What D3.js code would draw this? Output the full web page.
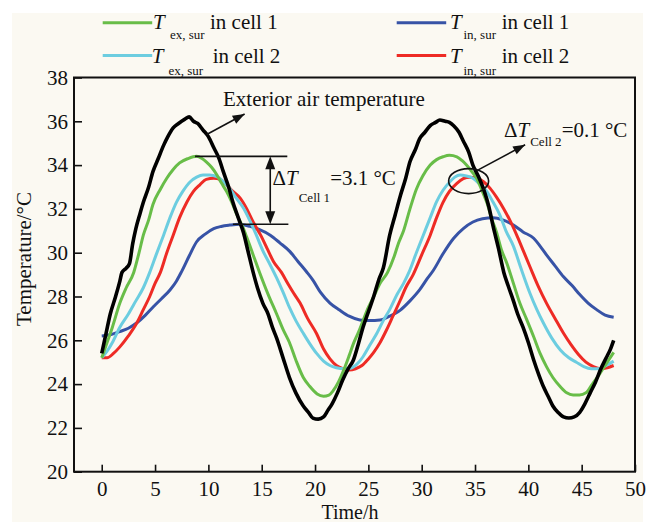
<!DOCTYPE html>
<html>
<head>
<meta charset="utf-8">
<script src="https://cdn.jsdelivr.net/npm/d3@7"></script>
<style>
  html, body { margin: 0; padding: 0; background: #ffffff; }
  svg text { font-family: "Liberation Serif", "Times New Roman", serif; fill: #111; }
</style>
</head>
<body>
<svg id="chart" width="646" height="522"></svg>
<script>
// ---- measured series (time in h, temperature in °C) ----
const exteriorTime = [0,0.4,0.8,1.3,1.7,1.9,2.3,2.6,2.9,3.2,3.6,3.9,4.4,4.8,5.3,5.8,6.2,6.7,7.2,7.8,8.2,8.6,9.0,9.5,10.0,10.5,11.0,11.4,11.9,12.3,12.8,13.3,13.7,14.2,14.6,15.1,15.6,16.0,16.4,17.0,17.6,18.2,18.9,19.4,19.8,20.3,20.8,21.2,21.6,22.1,22.6,23.1,23.6,24.1,24.5,25.0,25.5,26.0,26.4,27.0,27.5,28.0,28.5,28.9,29.4,29.8,30.3,30.8,31.3,31.7,32.2,32.6,33.0,33.5,33.9,34.4,34.8,35.3,35.8,36.3,36.7,37.2,37.7,38.1,38.6,39.0,39.5,40.0,40.5,41.0,41.4,41.9,42.3,42.8,43.3,43.8,44.3,44.8,45.3,45.8,46.3,46.8,47.3,47.7,48.0];
const exteriorTemp = [25.4,26.3,27.2,28.0,28.7,29.1,29.3,29.5,30.4,31.1,31.8,32.3,33.0,33.7,34.3,34.9,35.3,35.7,35.9,36.1,36.2,36.0,35.9,35.6,35.3,34.8,34.3,33.7,33.0,32.3,31.6,30.9,30.1,29.1,28.4,27.7,27.2,26.6,26.1,25.2,24.3,23.6,23.0,22.7,22.45,22.4,22.5,22.8,23.1,23.6,24.2,24.7,25.1,25.9,26.6,27.3,28.0,28.8,29.3,30.8,31.7,32.6,33.4,34.15,34.7,35.2,35.5,35.8,35.95,36.06,36.0,35.95,35.8,35.5,35.1,34.6,34.0,33.5,32.9,32.1,31.2,30.2,29.1,28.5,27.8,27.2,26.6,25.9,25.1,24.4,23.9,23.4,23.0,22.7,22.5,22.45,22.5,22.7,23.1,23.6,24.1,24.7,25.2,25.6,26.0];

const exSurCell1Time = [0,0.5,1.0,1.7,2.3,3.0,3.5,3.9,4.4,4.8,5.5,6.1,6.7,7.3,8.1,8.9,9.4,9.8,10.3,10.8,11.2,11.7,12.2,12.7,13.2,13.6,14.2,14.8,15.6,16.4,17.0,17.6,18.2,18.9,19.5,20.2,20.8,21.3,21.7,22.2,22.7,23.2,23.6,24.1,24.5,25.0,25.5,26.1,26.8,27.4,27.8,28.3,28.9,29.5,30.1,30.8,31.4,32.0,32.6,33.3,33.8,34.2,34.7,35.15,35.6,36.1,36.6,37.0,37.5,38.0,38.6,39.2,39.8,40.5,41.1,41.7,42.3,43.0,43.6,44.2,44.8,45.4,46.0,46.6,47.2,47.6,48.0];
const exSurCell1Temp = [25.2,25.9,26.6,27.7,28.4,29.1,30.0,30.8,31.5,32.2,32.9,33.4,33.8,34.1,34.3,34.4,34.3,34.15,33.9,33.55,33.2,32.8,32.3,31.7,31.2,30.7,29.9,29.1,28.1,27.2,26.5,25.9,25.1,24.3,23.9,23.55,23.45,23.5,23.7,24.1,24.65,25.3,25.85,26.4,26.9,27.5,28.0,28.6,29.1,29.8,30.4,31.0,32.0,32.9,33.5,34.0,34.25,34.38,34.45,34.38,34.2,34.0,33.7,33.4,32.9,32.3,31.5,30.96,30.1,29.5,28.6,27.7,27.0,26.16,25.4,24.8,24.3,23.88,23.6,23.5,23.5,23.6,24.0,24.4,24.85,25.15,25.45];

const exSurCell2Time = [0,0.5,1.0,1.7,2.5,3.2,3.9,4.5,5.1,5.8,6.4,7.0,7.6,8.3,8.9,9.5,10.1,10.8,11.4,12.0,12.6,13.3,13.9,14.5,15.1,15.8,16.4,17.0,17.6,18.2,18.9,19.5,20.15,20.8,21.4,22.0,22.7,23.3,23.9,24.5,25.1,25.8,26.4,27.0,27.7,28.3,28.8,29.5,30.15,30.8,31.4,32.0,32.65,33.1,33.6,34.2,34.8,35.4,36.1,36.7,37.3,37.9,38.6,39.3,40.15,40.8,41.4,42.2,43.0,43.8,44.5,45.2,45.9,46.6,47.3,48.0];
const exSurCell2Temp = [25.2,25.5,25.9,26.6,27.2,27.8,28.4,29.1,29.9,30.8,31.6,32.3,32.8,33.24,33.45,33.55,33.55,33.47,33.25,32.94,32.5,32.03,31.45,30.8,30.1,29.44,28.85,28.2,27.5,26.9,26.32,25.85,25.4,25.05,24.85,24.75,24.7,24.72,24.9,25.25,25.75,26.32,26.9,27.4,28.1,28.6,29.1,30.0,30.8,31.6,32.33,32.85,33.24,33.45,33.55,33.5,33.4,33.15,32.8,32.3,31.75,31.0,30.3,29.3,28.15,27.4,26.8,26.1,25.56,25.2,25.0,24.8,24.7,24.7,24.85,25.05];

const inSurCell1Time = [0,0.8,1.7,2.5,3.3,4.1,4.84,5.6,6.4,7.0,7.5,8.2,8.9,9.7,10.5,11.2,12.0,12.9,13.9,14.8,15.8,16.7,17.65,18.4,19.2,19.8,20.5,21.4,22.3,23.2,24.2,25.1,26.1,27.0,28.0,28.9,29.8,30.5,31.1,32.0,33.0,33.9,34.8,35.7,36.7,37.6,38.6,39.5,40.5,41.1,41.7,42.5,43.3,44.1,44.8,45.6,46.4,47.2,48.0];
const inSurCell1Temp = [26.2,26.25,26.4,26.55,26.8,27.15,27.53,27.9,28.3,28.7,29.15,29.85,30.5,30.85,31.1,31.2,31.26,31.3,31.2,31.05,30.8,30.45,30.05,29.6,29.13,28.75,28.2,27.7,27.38,27.1,26.93,26.9,26.93,27.1,27.38,27.8,28.3,28.8,29.2,29.95,30.66,31.1,31.4,31.55,31.6,31.5,31.26,30.95,30.66,30.3,29.9,29.4,28.9,28.5,28.1,27.7,27.4,27.15,27.05];

const inSurCell2Time = [0,0.5,1.1,1.7,2.5,3.3,3.9,4.5,5.0,5.5,6.1,6.7,7.3,8.0,8.6,9.2,9.8,10.5,11.1,11.7,12.3,13.0,13.6,14.2,14.9,15.5,16.1,16.85,17.5,18.0,18.6,19.3,20.15,20.8,21.4,22.0,22.6,23.2,23.8,24.4,25.0,25.5,26.1,26.7,27.3,28.0,28.5,29.2,30.0,30.8,31.4,32.0,32.6,33.3,33.9,34.5,35.1,35.8,36.4,37.0,37.7,38.3,39.0,39.6,40.15,40.9,41.7,42.5,43.3,44.0,44.7,45.4,46.1,46.8,47.4,48.0];
const inSurCell2Temp = [25.2,25.2,25.4,25.7,26.2,26.8,27.4,28.0,28.6,29.1,30.0,30.8,31.6,32.33,32.8,33.1,33.35,33.4,33.35,33.1,32.8,32.48,32.0,31.4,30.8,30.2,29.6,29.1,28.55,28.15,27.7,27.0,26.3,25.6,25.15,24.85,24.7,24.64,24.7,24.85,25.15,25.45,25.9,26.47,27.1,27.84,28.4,29.0,29.9,30.8,31.6,32.3,32.8,33.17,33.38,33.45,33.42,33.24,32.95,32.55,32.0,31.45,30.7,30.0,29.36,28.5,27.7,27.0,26.32,25.8,25.35,25.0,24.8,24.7,24.75,24.85];

// ---- axes ----
const xTicks = [0,5,10,15,20,25,30,35,40,45,50];
const yTicks = [20,22,24,26,28,30,32,34,36,38];
const xTitle = "Time/h";
const yTitle = "Temperature/°C";

// ---- legend ----
const legendSubs = ["ex, sur", "in, sur", "ex, sur", "in, sur"];
const legendCells = ["in cell 1", "in cell 1", "in cell 2", "in cell 2"];

// ---- annotations (data units) ----
const exteriorLabel = "Exterior air temperature";
const exteriorArrow = [[9.84, 35.4], [13.4, 36.33]];
const cell1Peaks = [34.4, 31.3];          // T_ex,sur peak and T_in,sur peak in cell 1
const cell1Delta = "3.1";
const cell2Focus = [34.4, 33.27];         // where the cell-2 curves peak together
const cell2Arrow = [[35.3, 33.78], [39.7, 34.93]];
const cell2Delta = "0.1";

// ---- layout ----
const plot = { left: 74, right: 635, top: 77.5, bottom: 471.7 };
const colors = {
  exterior: "#000000",
  exSur1: "#68bd48",
  inSur1: "#3753a6",
  exSur2: "#6ccde0",
  inSur2: "#ee2b25"
};

const svg = d3.select("#chart");

// paper background
svg.append("rect").attr("x", 12).attr("y", 13).attr("width", 631).attr("height", 509)
  .attr("fill", "#fbf9f2");

const x = d3.scaleLinear().domain([-2.6, 50]).range([plot.left, plot.right]);
const y = d3.scaleLinear().domain([20, 38]).range([plot.bottom, plot.top]);

// axes with inward ticks
const yAxis = svg.append("g").attr("transform", `translate(${plot.left},0)`)
  .call(d3.axisLeft(y).tickValues(yTicks).tickSize(-8).tickPadding(6).tickFormat(d3.format("d")));
const xAxis = svg.append("g").attr("transform", `translate(0,${plot.bottom})`)
  .call(d3.axisBottom(x).tickValues(xTicks).tickSize(-7).tickFormat(d3.format("d")));
[yAxis, xAxis].forEach(g => {
  g.select(".domain").remove();
  g.selectAll(".tick line").attr("stroke", "#111").attr("stroke-width", 1.6);
  g.selectAll("text").attr("font-size", 21).attr("fill", "#111")
    .attr("font-family", "'Liberation Serif', 'Times New Roman', serif");
});
xAxis.selectAll("text").attr("y", 24).attr("dy", null);

// frame
svg.append("rect")
  .attr("x", plot.left).attr("y", plot.top)
  .attr("width", plot.right - plot.left).attr("height", plot.bottom - plot.top)
  .attr("fill", "none").attr("stroke", "#111").attr("stroke-width", 2);

// axis titles
svg.append("text").attr("x", 350).attr("y", 519).attr("text-anchor", "middle")
  .attr("font-size", 20).text(xTitle);
svg.append("text").attr("transform", "translate(31,259) rotate(-90)")
  .attr("text-anchor", "middle").attr("font-size", 21).text(yTitle);

// curves
const line = d3.line().x(d => x(d[0])).y(d => y(d[1])).curve(d3.curveMonotoneX);
const series = [
  { t: inSurCell1Time, v: inSurCell1Temp, c: colors.inSur1, w: 3 },
  { t: inSurCell2Time, v: inSurCell2Temp, c: colors.inSur2, w: 3 },
  { t: exSurCell2Time, v: exSurCell2Temp, c: colors.exSur2, w: 3 },
  { t: exSurCell1Time, v: exSurCell1Temp, c: colors.exSur1, w: 3 },
  { t: exteriorTime, v: exteriorTemp, c: colors.exterior, w: 3.6 }
];
svg.append("g").selectAll("path").data(series).join("path")
  .attr("d", s => line(s.t.map((t, i) => [t, s.v[i]])))
  .attr("fill", "none").attr("stroke", s => s.c).attr("stroke-width", s => s.w)
  .attr("stroke-linejoin", "round");

// arrow helper: line with a filled head at the end point
function arrowHead(g, x1, y1, x2, y2, len = 12, half = 4.5) {
  const a = Math.atan2(y2 - y1, x2 - x1);
  const bx = x2 - len * Math.cos(a), by = y2 - len * Math.sin(a);
  const px = -Math.sin(a) * half, py = Math.cos(a) * half;
  g.append("path")
    .attr("d", `M${x2},${y2}L${bx + px},${by + py}L${bx - px},${by - py}Z`)
    .attr("fill", "#111");
}
function arrow(g, p0, p1) {
  const [x1, y1, x2, y2] = [x(p0[0]), y(p0[1]), x(p1[0]), y(p1[1])];
  g.append("line").attr("x1", x1).attr("y1", y1).attr("x2", x2).attr("y2", y2)
    .attr("stroke", "#111").attr("stroke-width", 1.6);
  arrowHead(g, x1, y1, x2, y2);
}

const ann = svg.append("g");

// exterior air label
ann.append("text").attr("x", 223).attr("y", 105.5).attr("font-size", 21).text(exteriorLabel);
arrow(ann, exteriorArrow[0], exteriorArrow[1]);

// cell 1 difference bracket
ann.append("line").attr("x1", x(8.75)).attr("x2", x(17.4))
  .attr("y1", y(cell1Peaks[0])).attr("y2", y(cell1Peaks[0]))
  .attr("stroke", "#111").attr("stroke-width", 1.6);
ann.append("line").attr("x1", x(12.3)).attr("x2", x(17.5))
  .attr("y1", y(cell1Peaks[1])).attr("y2", y(cell1Peaks[1]))
  .attr("stroke", "#111").attr("stroke-width", 1.6);
{
  const ax = x(15.8), yTop = y(cell1Peaks[0]), yBot = y(cell1Peaks[1]);
  ann.append("line").attr("x1", ax).attr("x2", ax).attr("y1", yTop + 6).attr("y2", yBot - 6)
    .attr("stroke", "#111").attr("stroke-width", 1.6);
  arrowHead(ann, ax, yBot, ax, yTop, 13, 5);
  arrowHead(ann, ax, yTop, ax, yBot, 13, 5);
}
function deltaLabel(g, px, py, sub, value, subDy) {
  const t = g.append("text").attr("x", px).attr("y", py).attr("font-size", 21);
  t.append("tspan").text("Δ");
  t.append("tspan").attr("font-style", "italic").text("T");
  t.append("tspan").attr("font-size", 13).attr("dx", 1).attr("dy", subDy).text(sub);
  t.append("tspan").attr("dy", -subDy).text("=" + value + " °C");
}
deltaLabel(ann, 272.5, 185, "Cell 1", cell1Delta, 17);

// cell 2 difference marker
ann.append("ellipse").attr("cx", x(cell2Focus[0])).attr("cy", y(cell2Focus[1]))
  .attr("rx", 20).attr("ry", 12.5)
  .attr("fill", "none").attr("stroke", "#111").attr("stroke-width", 1.6);
arrow(ann, cell2Arrow[0], cell2Arrow[1]);
deltaLabel(ann, 504, 137.3, "Cell 2", cell2Delta, 9);

// legend
const legendLayout = [
  { lx: 102.7, ly: 22.7, tx: 153, by: 29.3, sx: 170, sy: 39.3, cx: 210 },
  { lx: 396.7, ly: 22.7, tx: 450, by: 29.3, sx: 463.5, sy: 38.8, cx: 501.7 },
  { lx: 102.7, ly: 55.5, tx: 151.7, by: 63.3, sx: 168.5, sy: 75, cx: 212.7 },
  { lx: 396.7, ly: 55.5, tx: 450, by: 63.3, sx: 463.5, sy: 74.5, cx: 501.7 }
];
const legendColors = [colors.exSur1, colors.inSur1, colors.exSur2, colors.inSur2];
const lg = svg.append("g");
legendSubs.forEach((sub, i) => {
  const L = legendLayout[i];
  lg.append("line").attr("x1", L.lx).attr("x2", L.lx + 49.5).attr("y1", L.ly).attr("y2", L.ly)
    .attr("stroke", legendColors[i]).attr("stroke-width", 3);
  lg.append("text").attr("x", L.tx).attr("y", L.by).attr("font-size", 21)
    .attr("font-style", "italic").text("T");
  lg.append("text").attr("x", L.sx).attr("y", L.sy).attr("font-size", 13).text(sub);
  lg.append("text").attr("x", L.cx).attr("y", L.by).attr("font-size", 21).text(legendCells[i]);
});
</script>
</body>
</html>
